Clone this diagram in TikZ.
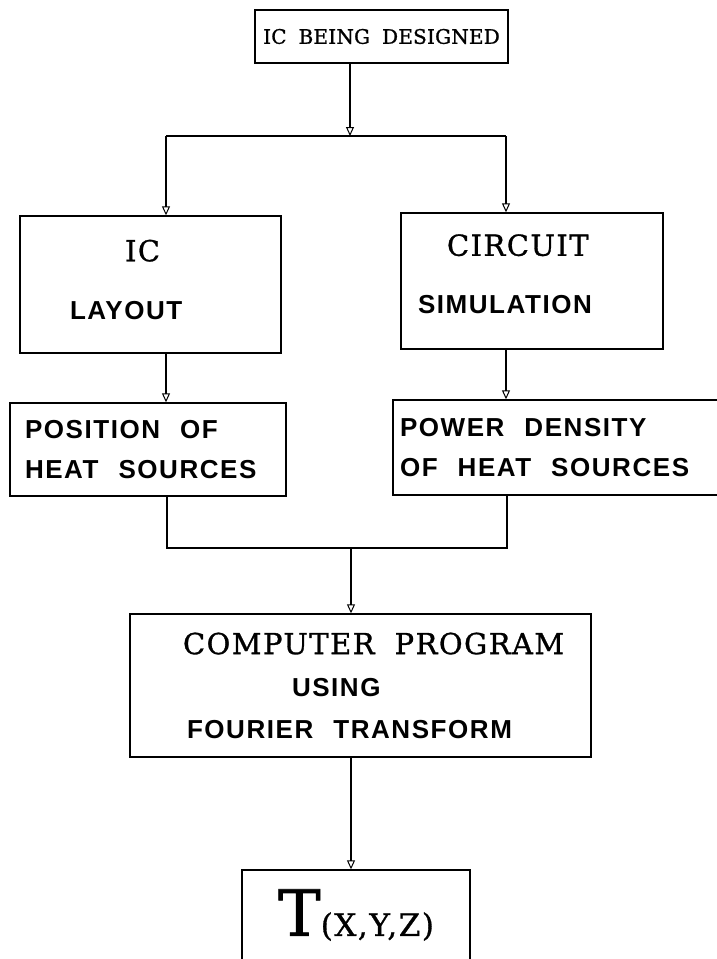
\documentclass[tikz,border=0pt]{standalone}
\usepackage{fontspec}
\setmainfont[FakeBold=1]{DejaVu Serif}
\setsansfont{Liberation Sans}
\newfontfamily\serifwide[LetterSpace=5, FakeBold=1]{DejaVu Serif}
\newfontfamily\serifnarrow[LetterSpace=1, FakeBold=1]{DejaVu Serif}
\newfontfamily\sanswide[LetterSpace=6]{Liberation Sans}
\newcommand\capserif{\serifwide\fontsize{29}{29}\selectfont}
\newcommand\capsans{\sanswide\bfseries\fontsize{26}{26}\selectfont}
\newcommand\wsp{\hspace{20pt}}
\newcommand\nsp{\hspace{12pt}}
\usetikzlibrary{arrows.meta}

\begin{document}
\begin{tikzpicture}[
    x=1pt, y=-1pt,
    box/.style={draw, line width=1.4pt, inner sep=0pt, align=center},
    flow/.style={line width=1.1pt, -{Triangle[open, length=9pt, width=8pt, line width=1pt]}},
    wire/.style={line width=1.1pt}
]
  \useasboundingbox (0,0) rectangle (716,959);

  % ===== design and the two branches =====
  \node[box, minimum width=253pt, minimum height=53pt,
        font={\serifnarrow\fontsize{20}{24}\selectfont}] (design) at (381.5,36.5) {IC\nsp BEING\nsp DESIGNED};
  \node[box, align=left, text width=261pt, minimum height=137pt, text depth=68pt,
        font={\fontsize{28}{58}\selectfont}] (layout) at (150.5,284.5)
        {\hspace*{105pt}{\capserif IC}\\\hspace*{50pt}{\capsans LAYOUT}};
  \node[box, align=left, text width=262pt, minimum height=136pt, text depth=72pt,
        font={\fontsize{28}{58}\selectfont}] (sim) at (532,281)
        {\hspace*{46pt}{\capserif CIRCUIT}\\\hspace*{17pt}{\capsans SIMULATION}};

  % ===== heat sources =====
  \node[box, align=left, text width=246pt, inner xsep=15pt, minimum height=93pt,
        font={\capsans\fontsize{26}{40}\selectfont}] (pos) at (148,449.5)
        {POSITION\wsp OF\\HEAT\wsp SOURCES};
  \node[box, align=left, text width=315pt, inner xsep=7pt, minimum height=95pt,
        font={\capsans\fontsize{26}{40}\selectfont}] (dens) at (557.5,447.5)
        {POWER\wsp DENSITY\\OF\wsp HEAT\wsp SOURCES};

  % ===== program and result =====
  \node[box, align=left, text width=461pt, minimum height=143pt,
        font={\fontsize{28}{42}\selectfont}] (prog) at (360.5,685.5)
        {\hspace*{53pt}{\capserif COMPUTER\wsp PROGRAM}\\\hspace*{162pt}{\capsans USING}\\\hspace*{57pt}{\capsans FOURIER\wsp TRANSFORM}};
  \node[box, minimum width=228pt, minimum height=90pt] (temp) at (356,915)
        {{\fontsize{64}{64}\selectfont T}{\serifwide\fontsize{31}{31}\selectfont(X,Y,Z)}};

  % junction points
  \coordinate (fork) at (350,136);
  \coordinate (forkL) at (166,136);
  \coordinate (forkR) at (506,136);
  \coordinate (joinL) at (167,548);
  \coordinate (joinR) at (507,548);
  \coordinate (join) at (351,548);

  % connectors
  \draw[flow] (design.south -| fork) -- (fork);
  \draw[wire] (forkL) -- (forkR);
  \draw[flow] (forkL) -- (layout.north -| forkL);
  \draw[flow] (forkR) -- (sim.north -| forkR);
  \draw[flow] (layout.south -| forkL) -- (pos.north -| forkL);
  \draw[flow] (sim.south -| forkR) -- (dens.north -| forkR);
  \draw[wire] (pos.south -| joinL) -- (joinL) -- (joinR) -- (dens.south -| joinR);
  \draw[flow] (join) -- (prog.north -| join);
  \draw[flow] (prog.south -| join) -- (temp.north -| join);
\end{tikzpicture}
\end{document}
